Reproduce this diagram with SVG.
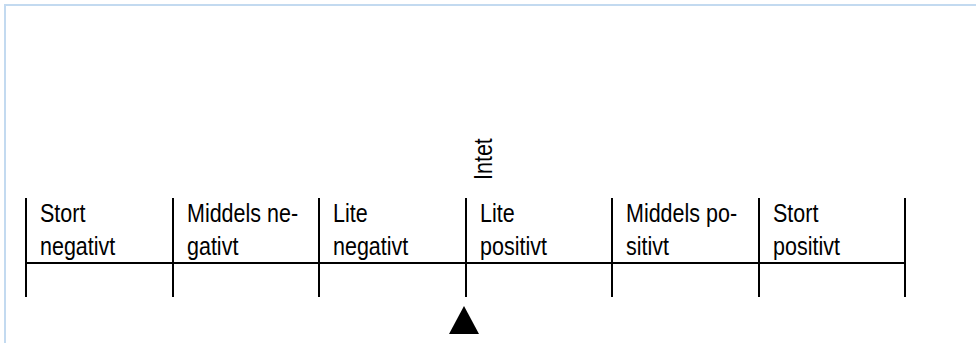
<svg xmlns="http://www.w3.org/2000/svg" width="976" height="343" viewBox="0 0 976 343">
  <style>
    .frame { stroke: #c3daf0; stroke-width: 2; fill: none; }
    .rule { stroke: #000; stroke-width: 2; fill: none; }
    .lbl { font-family: "Liberation Sans", Arial, sans-serif; font-size: 25px; fill: #000; }
  </style>
  <rect width="976" height="343" fill="#fff"/>
  <!-- page frame (top and left edges) -->
  <path class="frame" d="M5,343 V5 H976"/>

  <!-- scale grid -->
  <g id="scale">
    <path class="rule" d="M26,263 H905"/>
    <path class="rule" d="M26,198 V297 M173,198 V297 M319,198 V297 M466,198 V297 M612,198 V297 M759,198 V297 M905,198 V297"/>
  </g>

  <g id="stort-negativt">
    <text class="lbl" transform="translate(40,222) scale(0.86,1)">Stort</text>
    <text class="lbl" transform="translate(40,255) scale(0.86,1)">negativt</text>
  </g>
  <g id="middels-negativt">
    <text class="lbl" transform="translate(187,222) scale(0.86,1)">Middels ne-</text>
    <text class="lbl" transform="translate(187,255) scale(0.86,1)">gativt</text>
  </g>
  <g id="lite-negativt">
    <text class="lbl" transform="translate(333,222) scale(0.86,1)">Lite</text>
    <text class="lbl" transform="translate(333,255) scale(0.86,1)">negativt</text>
  </g>
  <g id="intet">
    <text class="lbl" transform="translate(492,180) rotate(-90) scale(0.86,1)">Intet</text>
  </g>
  <g id="lite-positivt">
    <text class="lbl" transform="translate(480,222) scale(0.86,1)">Lite</text>
    <text class="lbl" transform="translate(480,255) scale(0.86,1)">positivt</text>
  </g>
  <g id="middels-positivt">
    <text class="lbl" transform="translate(626,222) scale(0.86,1)">Middels po-</text>
    <text class="lbl" transform="translate(626,255) scale(0.86,1)">sitivt</text>
  </g>
  <g id="stort-positivt">
    <text class="lbl" transform="translate(773,222) scale(0.86,1)">Stort</text>
    <text class="lbl" transform="translate(773,255) scale(0.86,1)">positivt</text>
  </g>

  <!-- pointer -->
  <g id="pointer">
    <polygon points="464,306 449,334 479,334" fill="#000"/>
  </g>
</svg>
